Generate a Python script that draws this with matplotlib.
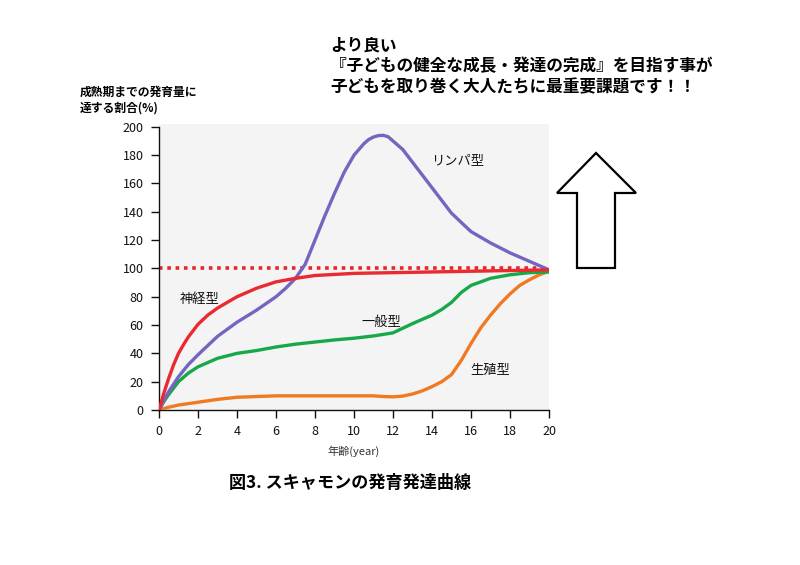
import matplotlib
matplotlib.use("Agg")
import matplotlib.pyplot as plt
from matplotlib.patches import Polygon

plt.rcParams['font.family'] = ['Noto Sans CJK JP', 'DejaVu Sans']

# ---- data ----
lymph_x = [0, 0.25, 0.5, 1, 1.5, 2, 3, 4, 5, 6, 6.5, 7, 7.5, 8, 8.5, 9, 9.5, 10, 10.5, 10.75, 11, 11.25, 11.5, 11.75, 12, 12.5, 13, 14, 15, 16, 17, 18, 19, 20]
lymph_y = [0, 7, 13, 23.5, 32, 39, 52, 62, 70.5, 80, 86, 93, 103, 120, 137, 153, 168, 180, 188, 191, 192.8, 193.8, 194, 193, 190, 184, 175, 157, 139, 126, 118, 111, 105, 99]

nerve_x = [0, 0.25, 0.5, 0.75, 1, 1.25, 1.5, 2, 2.5, 3, 4, 5, 6, 7, 8, 10, 12, 14, 16, 18, 20]
nerve_y = [0, 12, 22.5, 32, 40, 46, 51.5, 60.5, 67, 72, 80, 86, 90.5, 93, 95, 96.5, 97, 97.5, 98, 98.5, 99]

general_x = [0, 0.25, 0.5, 1, 1.5, 2, 3, 4, 5, 6, 7, 8, 9, 10, 11, 12, 13, 14, 14.5, 15, 15.5, 16, 17, 18, 19, 20]
general_y = [0, 6, 11, 20, 26, 30.5, 36.5, 40, 42, 44.5, 46.5, 48, 49.5, 50.7, 52.3, 54.5, 61, 67, 71, 76, 83, 88, 93, 95.5, 97, 97.5]

repro_x = [0, 0.5, 1, 2, 3, 4, 5, 6, 7, 8, 9, 10, 11, 11.5, 12, 12.5, 13, 13.5, 14, 14.5, 15, 15.5, 16, 16.5, 17, 17.5, 18, 18.5, 19, 19.5, 20]
repro_y = [0, 2, 3.5, 5.5, 7.5, 9, 9.5, 10, 10, 10, 10, 10, 10, 9.5, 9.3, 9.8, 11.3, 13.5, 16.5, 20, 25, 35, 47, 58, 67, 75, 82, 88, 92, 95.5, 98]

ref_x = [0, 20]
ref_y = [100, 100]

x_ticks = list(range(0, 21, 2))
y_ticks = list(range(0, 201, 20))

labels = ['神経型', '一般型', '生殖型', 'リンパ型']
label_x = [2.1, 11.4, 17.0, 15.3]
label_y = [78, 62, 28, 176]

# ---- figure ----
fig = plt.figure(figsize=(8, 5.65), dpi=100)
fig.patch.set_facecolor('white')
ax = fig.add_axes([159/800, 1-410/565, 390/800, 286/565])
ax.set_facecolor('#f4f4f4')

ax.plot(ref_x, ref_y, color='#e8262a', lw=2.6, linestyle=(0, (1, 1.3)), zorder=2)
ax.plot(repro_x, repro_y, color='#f07a22', lw=2.4, zorder=3, solid_joinstyle='round', solid_capstyle='round')
ax.plot(general_x, general_y, color='#17a84a', lw=2.4, zorder=3, solid_joinstyle='round', solid_capstyle='round')
ax.plot(lymph_x, lymph_y, color='#7466c0', lw=2.4, zorder=3, solid_joinstyle='round', solid_capstyle='round')
ax.plot(nerve_x, nerve_y, color='#ea2a30', lw=2.4, zorder=4, solid_joinstyle='round', solid_capstyle='round')

for t, lx, ly in zip(labels, label_x, label_y):
    ax.text(lx, ly, t, fontsize=9.5, ha='center', va='center', color='#111111')

ax.set_xlim(0, 20)
ax.set_ylim(0, 202)
ax.set_xticks(x_ticks)
ax.set_yticks(y_ticks)
ax.tick_params(direction='out', length=6, width=1, labelsize=9, colors='#111111', pad=5)
for s in ['top', 'right']:
    ax.spines[s].set_visible(False)
ax.spines['left'].set_bounds(0, 200)
for s in ['left', 'bottom']:
    ax.spines[s].set_linewidth(1)
    ax.spines[s].set_color('#111111')

ax.set_xlabel('年齢(year)', fontsize=8, color='#333333', labelpad=5)

# y-axis label at top-left
fig.text(80/800, 1-100/565, '成熟期までの発育量に\n達する割合(%)', fontsize=8.5, fontweight='bold',
         ha='left', va='center', linespacing=1.3)

# headline
fig.text(330/800, 1-66/565, 'より良い\n『子どもの健全な成長・発達の完成』を目指す事が\n子どもを取り巻く大人たちに最重要課題です！！',
         fontsize=12, fontweight='bold', ha='left', va='center', linespacing=1.2)

# caption
fig.text(350/800, 1-483/565, '図3. スキャモンの発育発達曲線', fontsize=12.3, fontweight='bold',
         ha='center', va='center')

# up arrow outline
pts = [(596, 153), (636, 193), (615, 193), (615, 268), (577, 268), (577, 193), (557, 193)]
arrow = Polygon([(px/800, 1-py/565) for px, py in pts], closed=True, transform=fig.transFigure,
                facecolor='white', edgecolor='black', lw=1.6)
fig.patches.append(arrow)

fig.savefig('out.png', dpi=100)
